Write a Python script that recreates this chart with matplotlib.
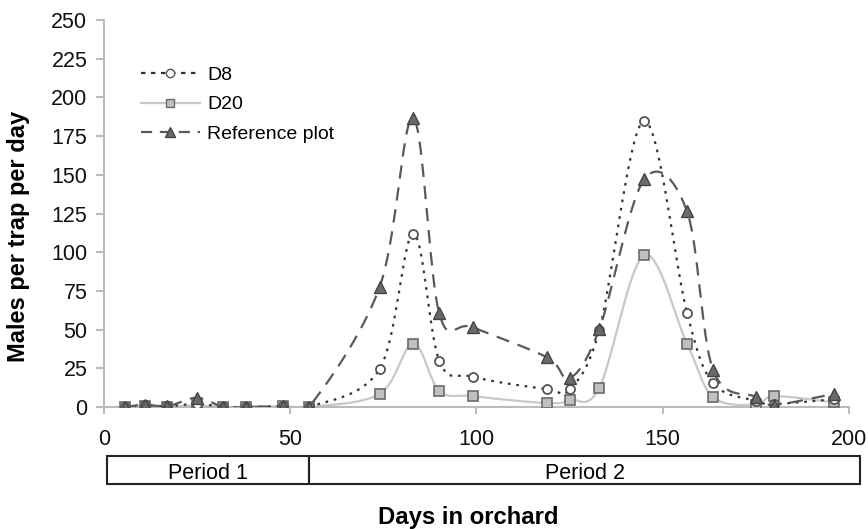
import matplotlib.pyplot as plt
from matplotlib.patches import Rectangle
import numpy as np

plt.rcParams['font.family'] = ['Liberation Sans', 'DejaVu Sans']

# Days in orchard and trap catches (males per trap per day)
days = [5.6, 11, 17, 25, 32, 38, 48, 55, 74, 83, 90, 99, 119, 125, 133, 145, 156.5, 163.5, 175, 180, 196]
d8 = [0, 1, 0.5, 2, 0, 0, 0.5, 0, 24.5, 112, 30, 19.5, 11.5, 11.5, 50, 185, 61, 15.5, 4, 2, 5]
d20 = [0, 0.5, 0, 1, 0, 0, 0.5, 0, 8.5, 41, 10.5, 7, 2.5, 4.5, 12.5, 98, 41, 6.5, 1.5, 7, 3]
ref = [0, 1.5, 0.5, 6, 0, 0, 0.5, 0, 77.5, 187, 60.5, 51.5, 32, 18.5, 50.5, 147, 126.5, 24, 6.5, 1.5, 8.5]

periods = ["Period 1", "Period 2"]
period_edges = [0.8, 55, 203]


# Excel-like smoothed line (Catmull-Rom through the points)
def smooth(x, y, n=20):
    x = np.asarray(x, float)
    y = np.asarray(y, float)
    px = np.concatenate([[x[0]], x, [x[-1]]])
    py = np.concatenate([[y[0]], y, [y[-1]]])
    xs, ys = [], []
    t = np.linspace(0, 1, n)
    for i in range(1, len(px) - 2):
        p0, p1, p2, p3 = [np.array([px[j], py[j]]) for j in range(i - 1, i + 3)]
        b1 = p1 + (p2 - p0) / 6
        b2 = p2 - (p3 - p1) / 6
        pts = ((1 - t) ** 3)[:, None] * p1 + (3 * (1 - t) ** 2 * t)[:, None] * b1 \
            + (3 * (1 - t) * t ** 2)[:, None] * b2 + (t ** 3)[:, None] * p2
        xs.extend(pts[:, 0])
        ys.extend(pts[:, 1])
    return xs, ys


fig = plt.figure(figsize=(8.68, 5.29), dpi=100)
ax = fig.add_axes([0.1198, 0.2306, 0.8583, 0.7316])

sx, sy = smooth(days, d20)
ax.plot(sx, sy, color='#c8c8c8', lw=1.6, zorder=2)
ax.plot(days, d20, ls='none', marker='s', ms=6.5, mfc='#c0c0c0', mec='#6a6a6a', mew=1.2, zorder=3)

sx, sy = smooth(days, d8)
ax.plot(sx, sy, color='#333333', lw=1.6, ls=(0, (1.2, 2.6)), zorder=4)
ax.plot(days, d8, ls='none', marker='o', ms=6.5, mfc='white', mec='#555555', mew=1.3, zorder=5)

sx, sy = smooth(days, ref)
ax.plot(sx, sy, color='#5a5a5a', lw=1.6, ls=(0, (6, 4)), zorder=6)
ax.plot(days, ref, ls='none', marker='^', ms=8, mfc='#6a6a6a', mec='#444444', mew=1, zorder=7)

# legend proxies
h1, = ax.plot([], [], color='#333333', lw=1.6, ls=(0, (2, 2.5)), marker='o', ms=6, mfc='white', mec='#555555')
h2, = ax.plot([], [], color='#c8c8c8', lw=1.6, marker='s', ms=6, mfc='#c0c0c0', mec='#6a6a6a')
h3, = ax.plot([], [], color='#5a5a5a', lw=1.6, ls=(0, (5, 3.5)), marker='^', ms=7.5, mfc='#6a6a6a', mec='#444444')
ax.legend([h1, h2, h3], ["D8", "D20", "Reference plot"], loc='upper left',
          bbox_to_anchor=(0.037, 0.905), frameon=False, fontsize=14, handlelength=3.0,
          handletextpad=0.4, labelspacing=0.6, borderpad=0)

ax.set_xlim(0, 200)
ax.set_ylim(0, 250)
ax.set_yticks(np.arange(0, 251, 25))
ax.set_xticks([0, 50, 100, 150, 200])
for s in ['top', 'right']:
    ax.spines[s].set_visible(False)
for s in ['left', 'bottom']:
    ax.spines[s].set_color('#bbbbbb')
    ax.spines[s].set_linewidth(1.5)
ax.tick_params(axis='both', colors='#bbbbbb', width=1.5, labelcolor='#111111', labelsize=15.5)
ax.tick_params(axis='x', length=5, pad=11)
ax.tick_params(axis='y', length=6, pad=6)

fig.text(0.021, 1 - 236 / 529, "Males per trap per day", rotation=90, ha='center', va='center',
         fontsize=17, fontweight='bold')

# period boxes below the axis
for i, name in enumerate(periods):
    left = period_edges[i]
    right = period_edges[i + 1]
    r = Rectangle((left, -31.7), right - left, -18, transform=ax.transData,
                  fill=False, ec='#222222', lw=1.5, clip_on=False)
    ax.add_patch(r)
    ax.text((left + right) / 2, -43, name, ha='center', va='center', fontsize=15.5)

fig.text(468.5 / 868, 5 / 529, "Days in orchard", ha='center', va='baseline', fontsize=17.2, fontweight='bold')

fig.savefig("out.png", dpi=100)
